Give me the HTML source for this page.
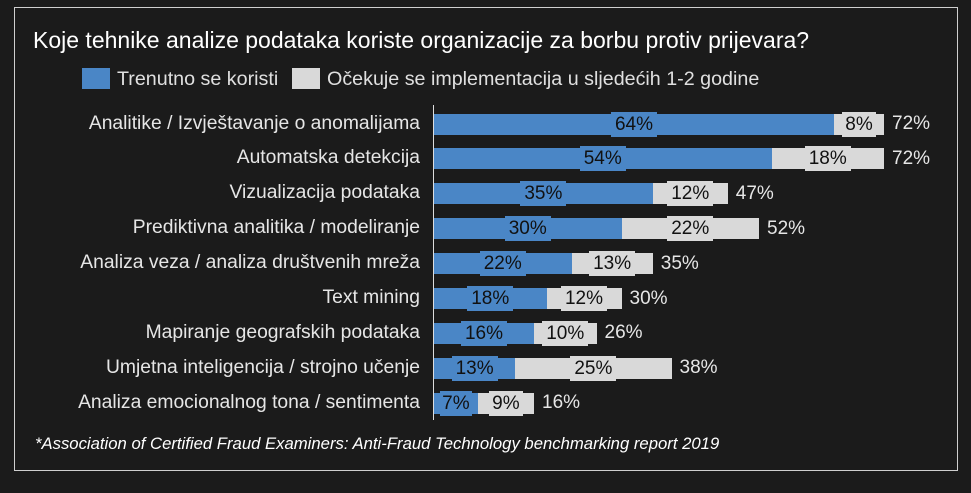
<!DOCTYPE html><html><head><meta charset="utf-8"><style>
body{margin:0;width:971px;height:493px;background:#1b1b1b;font-family:"Liberation Sans",sans-serif;position:relative;overflow:hidden}
.a{position:absolute}
.frame{left:14px;top:7px;width:942px;height:462px;border:1px solid #cfcfcf}
.t{color:#fff;font-size:23px;left:33px;top:27px;white-space:nowrap}
.lg{color:#e0e0e0;font-size:19.7px;top:68px;white-space:nowrap}
.lab{color:#e6e6e6;font-size:19.3px;right:551px;text-align:right;white-space:nowrap}
.bar{height:21px}
.pl{height:25px;font-size:19px;line-height:25px;text-align:center;color:#111}
.tot{color:#e6e6e6;font-size:19px}
</style></head><body>
<div class="a frame"></div>
<div class="a t">Koje tehnike analize podataka koriste organizacije za borbu protiv prijevara?</div>
<div class="a" style="left:82px;top:68px;width:28px;height:21px;background:#4a86c6"></div>
<div class="a lg" style="left:117px">Trenutno se koristi</div>
<div class="a" style="left:292px;top:68px;width:28px;height:21px;background:#d9d9d9"></div>
<div class="a lg" style="left:327px">Očekuje se implementacija u sljedećih 1-2 godine</div>
<div class="a" style="left:433px;top:105px;width:1px;height:315px;background:#ddd"></div>
<div id="c"></div>
<div class="a" style="left:35px;top:434px;color:#fff;font-size:16.7px;font-style:italic;white-space:nowrap">*Association of Certified Fraud Examiners: Anti-Fraud Technology benchmarking report 2019</div>
<script>
var d=[["Analitike / Izvještavanje o anomalijama",64,8,72],["Automatska detekcija",54,18,72],["Vizualizacija podataka",35,12,47],["Prediktivna analitika / modeliranje",30,22,52],["Analiza veza / analiza društvenih mreža",22,13,35],["Text mining",18,12,30],["Mapiranje geografskih podataka",16,10,26],["Umjetna inteligencija / strojno učenje",13,25,38],["Analiza emocionalnog tona / sentimenta",7,9,16]];
var h="",x0=434,k=6.25;
d.forEach(function(r,i){var y=124+i*34.9;
h+='<div class="a lab" style="top:'+(y-11.5)+'px">'+r[0]+'</div>';
var w1=r[1]*k,w2=r[2]*k;
h+='<div class="a bar" style="left:'+x0+'px;top:'+(y-10.5)+'px;width:'+w1+'px;background:#4a86c6"></div>';
h+='<div class="a bar" style="left:'+(x0+w1)+'px;top:'+(y-10.5)+'px;width:'+w2+'px;background:#d9d9d9"></div>';
var lw=r[1]<10?32:46;
h+='<div class="a pl" style="left:'+(x0+w1/2-lw/2)+'px;top:'+(y-12.5)+'px;width:'+lw+'px;background:#4a86c6">'+r[1]+'%</div>';
var lw2=r[2]<10?34:46;
h+='<div class="a pl" style="left:'+(x0+w1+w2/2-lw2/2)+'px;top:'+(y-12.5)+'px;width:'+lw2+'px;background:#d9d9d9">'+r[2]+'%</div>';
h+='<div class="a tot" style="left:'+(x0+w1+w2+Math.max(8,(lw2-w2)/2+6))+'px;top:'+(y-11)+'px">'+r[3]+'%</div>';
});
document.getElementById("c").innerHTML=h;
</script>
</body></html>
